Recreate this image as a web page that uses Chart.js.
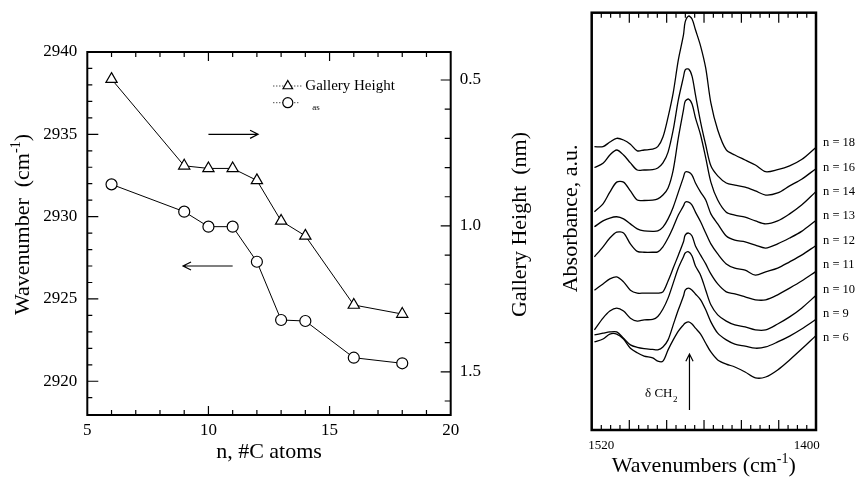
<!DOCTYPE html>
<html><head><meta charset="utf-8">
<script src="https://cdn.jsdelivr.net/npm/chart.js@4.4.1/dist/chart.umd.min.js"></script>
<style>
html,body{margin:0;padding:0;background:#fff;}
#wrap{position:relative;width:855px;height:477px;overflow:hidden;background:#fff;}
#c1{position:absolute;left:0;top:0;}
#c2{position:absolute;left:540px;top:0;}
</style></head><body>
<div id="wrap"><canvas id="c1" width="540" height="477"></canvas><canvas id="c2" width="315" height="477"></canvas></div>
<script>
// ---------- Left panel data ----------
const carbonNumbers  = [6, 9, 10, 11, 12, 13, 14, 16, 18];
const nuAsWavenumber = [2931.96, 2930.30, 2929.39, 2929.39, 2927.26, 2923.72, 2923.66, 2921.43, 2921.09];
const galleryHeight  = [0.497, 0.794, 0.803, 0.803, 0.844, 0.983, 1.034, 1.271, 1.302];
const xTickLabels     = [5, 10, 15, 20];
const leftTickLabels  = [2920, 2925, 2930, 2935, 2940];
const rightTickLabels = [0.5, 1.0, 1.5];

// ---------- Right panel data (absorbance, a.u., offset traces) ----------
const wavenumbers = [1524, 1519, 1515, 1511, 1507, 1503, 1499, 1495, 1490, 1487, 1484, 1481, 1478, 1475, 1472, 1471,
                     1469, 1467, 1465, 1462, 1459, 1456, 1452, 1447, 1442, 1436, 1430, 1424, 1417, 1410, 1403, 1395];
const spectrumLabels = ['n = 18', 'n = 16', 'n = 14', 'n = 13', 'n = 12', 'n = 11', 'n = 10', 'n = 9', 'n = 6'];
const spectrumN18 = [67.9, 67.9, 69.0, 69.9, 69.5, 68.5, 66.9, 67.1, 67.3, 67.9, 70.2, 75.0, 80.8, 88.7, 94.7, 97.8,
                     99.2, 98.5, 95.9, 92.0, 86.7, 78.4, 71.9, 67.1, 65.9, 64.7, 63.5, 61.9, 62.4, 63.3, 64.8, 67.6];
const spectrumN16 = [62.9, 63.9, 65.9, 67.1, 65.9, 64.0, 62.3, 62.3, 62.4, 62.8, 64.0, 66.6, 71.9, 79.1, 84.6, 86.3,
                     86.5, 84.8, 80.3, 73.8, 68.3, 63.3, 60.9, 59.2, 58.7, 58.2, 57.3, 56.3, 56.8, 58.5, 60.1, 62.5];
const spectrumN14 = [52.3, 54.2, 57.0, 59.4, 59.4, 57.3, 55.1, 55.0, 55.1, 55.4, 56.3, 58.0, 62.3, 70.0, 76.7, 78.8,
                     79.3, 78.1, 74.8, 70.7, 65.2, 59.4, 55.1, 52.2, 51.5, 51.0, 50.1, 49.4, 50.1, 51.8, 53.9, 57.0];
const spectrumN13 = [48.7, 50.1, 50.8, 51.1, 50.6, 49.4, 48.2, 47.7, 47.6, 47.7, 48.6, 50.6, 53.4, 57.0, 60.6, 61.8,
                     61.8, 61.1, 59.2, 57.0, 55.1, 51.8, 49.4, 46.5, 45.5, 45.1, 44.3, 43.6, 44.6, 46.0, 47.6, 50.1];
const spectrumN12 = [41.5, 43.9, 46.0, 47.4, 47.2, 44.6, 42.8, 42.6, 42.6, 42.7, 43.9, 46.0, 48.6, 51.5, 53.7, 54.6,
                     54.6, 53.9, 52.2, 49.9, 47.2, 44.6, 42.2, 39.8, 38.8, 38.3, 37.1, 37.9, 38.8, 40.3, 41.9, 44.1];
const spectrumN11 = [33.5, 35.0, 36.2, 36.7, 35.5, 33.5, 32.8, 32.8, 32.8, 32.8, 33.1, 35.7, 38.8, 41.9, 45.1, 46.7,
                     47.2, 46.5, 44.1, 41.9, 39.8, 37.4, 35.0, 33.1, 32.6, 31.9, 31.2, 31.2, 32.4, 34.0, 35.7, 37.9];
const spectrumN10 = [24.0, 26.8, 28.5, 29.2, 28.5, 26.8, 26.1, 26.4, 26.5, 27.2, 29.0, 31.6, 35.2, 38.8, 41.5, 42.4,
                     42.7, 41.7, 39.3, 37.1, 33.5, 30.0, 27.6, 26.1, 25.2, 24.7, 24.0, 24.0, 25.4, 27.1, 29.2, 32.1];
const spectrumN9  = [22.8, 23.2, 23.5, 23.5, 22.0, 20.4, 19.8, 19.5, 19.3, 19.2, 19.9, 21.6, 25.2, 28.8, 32.1, 33.5,
                     34.0, 33.5, 32.6, 31.2, 28.8, 25.9, 23.2, 21.6, 20.6, 20.1, 19.6, 19.9, 21.1, 22.5, 24.2, 26.4];
const spectrumN6  = [21.1, 21.8, 23.0, 23.0, 21.8, 19.6, 18.5, 17.7, 17.3, 16.5, 16.5, 19.2, 21.6, 23.7, 25.2, 25.6,
                     25.9, 25.4, 24.4, 23.0, 20.8, 18.7, 16.8, 15.8, 15.1, 13.9, 12.5, 12.7, 14.4, 16.8, 19.4, 22.5];
const spectra = [spectrumN18, spectrumN16, spectrumN14, spectrumN13, spectrumN12, spectrumN11, spectrumN10, spectrumN9, spectrumN6];
const xTickLabelsRight = [1520, 1400];

// ---------- helpers ----------
const SERIF = '"Liberation Serif", "DejaVu Serif", serif';
function range(a, b, s) { const r = []; for (let v = a; v <= b + 1e-9; v += s) r.push(Math.round(v * 1000) / 1000); return r; }

function tickMarks(ctx, area, scale, values, isMajor, side, minorLen, majorLen, lw) {
  ctx.save(); ctx.strokeStyle = '#000'; ctx.lineWidth = lw; ctx.beginPath();
  values.forEach(v => {
    const p = scale.getPixelForValue(v);
    const L = isMajor(v) ? majorLen : minorLen;
    if (side === 'bottom') { ctx.moveTo(p, area.bottom); ctx.lineTo(p, area.bottom - L); }
    if (side === 'top')    { ctx.moveTo(p, area.top);    ctx.lineTo(p, area.top + L); }
    if (side === 'left')   { ctx.moveTo(area.left, p);   ctx.lineTo(area.left + L, p); }
    if (side === 'right')  { ctx.moveTo(area.right, p);  ctx.lineTo(area.right - L, p); }
  });
  ctx.stroke(); ctx.restore();
}

function arrow(ctx, x1, y1, x2, y2, head, lw) {
  const a = Math.atan2(y2 - y1, x2 - x1), h = 0.47;
  ctx.save(); ctx.strokeStyle = '#000'; ctx.lineWidth = lw; ctx.beginPath();
  ctx.moveTo(x1, y1); ctx.lineTo(x2, y2);
  ctx.moveTo(x2 - head * Math.cos(a - h), y2 - head * Math.sin(a - h)); ctx.lineTo(x2, y2);
  ctx.lineTo(x2 - head * Math.cos(a + h), y2 - head * Math.sin(a + h));
  ctx.stroke(); ctx.restore();
}

function richText(ctx, parts, cx, cy, rot, baseOff) {
  ctx.save(); ctx.translate(cx, cy); ctx.rotate(rot); ctx.fillStyle = '#000'; ctx.textBaseline = 'alphabetic'; ctx.textAlign = 'left';
  let total = 0;
  parts.forEach(p => { ctx.font = p.size + 'px ' + SERIF; p.w = ctx.measureText(p.t).width; total += p.w; });
  let x = -total / 2;
  parts.forEach(p => { ctx.font = p.size + 'px ' + SERIF; ctx.fillText(p.t, x, baseOff + (p.dy || 0)); x += p.w; });
  ctx.restore();
}

// ---------- left chart ----------
const leftDecor = {
  id: 'leftDecor',
  afterDraw(chart) {
    const ctx = chart.ctx, a = chart.chartArea, s = chart.scales;
    const xs = range(6, 19, 1), major5 = v => Math.abs(v % 5) < 1e-6;
    tickMarks(ctx, a, s.x, xs, major5, 'bottom', 5, 9, 1.2);
    tickMarks(ctx, a, s.x, xs, major5, 'top', 5, 9, 1.2);
    tickMarks(ctx, a, s.y, range(2919, 2939, 1), major5, 'left', 5, 11, 1.2);
    tickMarks(ctx, a, s.y2, range(0.5, 1.6, 0.1), v => Math.abs((v * 10) % 5) < 1e-6, 'right', 6, 10, 1.2);
    ctx.save(); ctx.strokeStyle = '#000'; ctx.lineWidth = 2; ctx.strokeRect(a.left, a.top, a.right - a.left, a.bottom - a.top); ctx.restore();
    arrow(ctx, s.x.getPixelForValue(10), s.y.getPixelForValue(2935), s.x.getPixelForValue(12.05), s.y.getPixelForValue(2935), 9, 1.2);
    arrow(ctx, s.x.getPixelForValue(11), s.y.getPixelForValue(2927), s.x.getPixelForValue(8.95), s.y.getPixelForValue(2927), 9, 1.2);
    const lx = a.left + 186, ly1 = a.top + 34, ly2 = a.top + 50.7;
    ctx.save(); ctx.strokeStyle = '#000'; ctx.lineWidth = 1; ctx.setLineDash([1, 2]);
    ctx.beginPath(); ctx.moveTo(lx, ly1); ctx.lineTo(lx + 29, ly1); ctx.moveTo(lx, ly2); ctx.lineTo(lx + 27, ly2); ctx.stroke();
    ctx.setLineDash([]); ctx.lineWidth = 1.2; ctx.fillStyle = '#fff';
    const tr = 5.5, tcx = lx + 14.5;
    ctx.beginPath(); ctx.moveTo(tcx, ly1 - tr); ctx.lineTo(tcx + tr * 0.866, ly1 + tr / 2); ctx.lineTo(tcx - tr * 0.866, ly1 + tr / 2); ctx.closePath(); ctx.fill(); ctx.stroke();
    ctx.beginPath(); ctx.arc(tcx, ly2, 5, 0, Math.PI * 2); ctx.fill(); ctx.stroke();
    ctx.fillStyle = '#000'; ctx.textBaseline = 'middle'; ctx.textAlign = 'left';
    ctx.font = '15px ' + SERIF; ctx.fillText('Gallery Height', lx + 32, ly1);
    ctx.font = '9px ' + SERIF; ctx.fillText('as', lx + 39, ly2 + 5);
    ctx.restore();
    richText(ctx, [{t: 'Wavenumber  (cm', size: 22}, {t: '-1', size: 14, dy: -9}, {t: ')', size: 22}], 22, (a.top + a.bottom) / 2 - 9, -Math.PI / 2, 7);
    richText(ctx, [{t: 'Gallery Height  (nm)', size: 22}], 519, (a.top + a.bottom) / 2 - 9, -Math.PI / 2, 7);
    richText(ctx, [{t: 'n, #C atoms', size: 22}], (a.left + a.right) / 2, 458, 0, 0);
  }
};

const tickFont = {family: SERIF, size: 17};
new Chart(document.getElementById('c1'), {
  type: 'line',
  data: {
    datasets: [
      { label: 'Gallery Height', data: carbonNumbers.map((n, i) => ({x: n, y: galleryHeight[i]})), yAxisID: 'y2',
        borderColor: '#000', borderWidth: 1, pointStyle: 'triangle', pointRadius: 6.5, pointBackgroundColor: '#fff',
        pointBorderColor: '#000', pointBorderWidth: 1.2, tension: 0 },
      { label: 'νas', data: carbonNumbers.map((n, i) => ({x: n, y: nuAsWavenumber[i]})), yAxisID: 'y',
        borderColor: '#000', borderWidth: 1, pointStyle: 'circle', pointRadius: 5.5, pointBackgroundColor: '#fff',
        pointBorderColor: '#000', pointBorderWidth: 1.2, tension: 0 }
    ]
  },
  options: {
    responsive: false, devicePixelRatio: 1, animation: false,
    layout: {padding: {top: 52, left: 0, right: 0, bottom: 0}, autoPadding: false},
    plugins: {legend: {display: false}, tooltip: {enabled: false}},
    scales: {
      x: { type: 'linear', min: 5, max: 20, position: 'bottom',
        afterBuildTicks: s => { s.ticks = xTickLabels.map(v => ({value: v})); },
        ticks: {font: tickFont, color: '#000', padding: 5, maxRotation: 0, autoSkip: false, callback: v => String(v)},
        grid: {display: false, drawTicks: false}, border: {display: false},
        afterFit: s => { s.height = 62; } },
      y: { type: 'linear', min: 2917.95, max: 2940, position: 'left',
        afterBuildTicks: s => { s.ticks = leftTickLabels.map(v => ({value: v})); },
        ticks: {font: tickFont, color: '#000', padding: 10, autoSkip: false, callback: v => String(v)},
        grid: {display: false, drawTicks: false}, border: {display: false},
        afterFit: s => { s.width = 87.3; } },
      y2: { type: 'linear', min: 0.404, max: 1.648, reverse: true, position: 'right',
        afterBuildTicks: s => { s.ticks = rightTickLabels.map(v => ({value: v})); },
        ticks: {font: tickFont, color: '#000', padding: 9, autoSkip: false, callback: v => Number(v).toFixed(1)},
        grid: {display: false, drawTicks: false}, border: {display: false},
        afterFit: s => { s.width = 89.3; } }
    }
  },
  plugins: [leftDecor]
});

// ---------- right chart ----------
const rightDecor = {
  id: 'rightDecor',
  afterDraw(chart) {
    const ctx = chart.ctx, a = chart.chartArea, s = chart.scales;
    const step = (1520 - 1400) / 22, tks = [];
    for (let k = 0; k <= 22; k++) tks.push(1520 - k * step);
    const isMaj = v => { const k = Math.round((1520 - v) / step); return k % 4 === 3; };
    tickMarks(ctx, a, s.x, tks, isMaj, 'bottom', 5, 10, 1.2);
    tickMarks(ctx, a, s.x, tks, isMaj, 'top', 5, 10, 1.2);
    ctx.save(); ctx.strokeStyle = '#000'; ctx.lineWidth = 2.5; ctx.strokeRect(a.left, a.top, a.right - a.left, a.bottom - a.top); ctx.restore();
    const ax = s.x.getPixelForValue(1468.5);
    arrow(ctx, ax, s.y.getPixelForValue(4.8), ax, s.y.getPixelForValue(18.2), 8, 1.2);
    ctx.save(); ctx.fillStyle = '#000'; ctx.textBaseline = 'alphabetic'; ctx.textAlign = 'right';
    ctx.font = '9px ' + SERIF; ctx.fillText('2', ax - 12, s.y.getPixelForValue(6.8));
    ctx.font = '13px ' + SERIF; ctx.fillText('δ CH', ax - 17, s.y.getPixelForValue(7.8));
    ctx.textAlign = 'left'; ctx.textBaseline = 'middle'; ctx.font = '12.5px ' + SERIF;
    spectrumLabels.forEach((t, i) => ctx.fillText(t, a.right + 7, a.top + 130.3 + i * 24.4));
    ctx.restore();
    richText(ctx, [{t: 'Absorbance, a.u.', size: 22}], 30, (a.top + a.bottom) / 2 - 3, -Math.PI / 2, 7);
    richText(ctx, [{t: 'Wavenumbers (cm', size: 22}, {t: '-1', size: 14, dy: -9}, {t: ')', size: 22}], (a.left + a.right) / 2, 472, 0, 0);
  }
};

new Chart(document.getElementById('c2'), {
  type: 'line',
  data: {
    datasets: spectra.map((ser, j) => ({
      label: spectrumLabels[j], data: wavenumbers.map((w, i) => ({x: w, y: ser[i]})),
      borderColor: '#000', borderWidth: 1.3, pointRadius: 0, tension: 0.3, fill: false
    }))
  },
  options: {
    responsive: false, devicePixelRatio: 1, animation: false,
    layout: {padding: {top: 12.7, left: 0, right: 39, bottom: 0}, autoPadding: false},
    plugins: {legend: {display: false}, tooltip: {enabled: false}},
    scales: {
      x: { type: 'linear', min: 1394.6, max: 1525.6, reverse: true, position: 'bottom',
        afterBuildTicks: s => { s.ticks = xTickLabelsRight.map(v => ({value: v})); },
        ticks: {font: {family: SERIF, size: 13}, color: '#000', padding: 8, maxRotation: 0, autoSkip: false, callback: v => String(v)},
        grid: {display: false, drawTicks: false}, border: {display: false},
        afterFit: s => { s.height = 47; } },
      y: { type: 'linear', min: 0, max: 100, position: 'left',
        ticks: {display: false}, grid: {display: false, drawTicks: false}, border: {display: false},
        afterFit: s => { s.width = 51.7; } }
    }
  },
  plugins: [rightDecor]
});
</script>
</body></html>
